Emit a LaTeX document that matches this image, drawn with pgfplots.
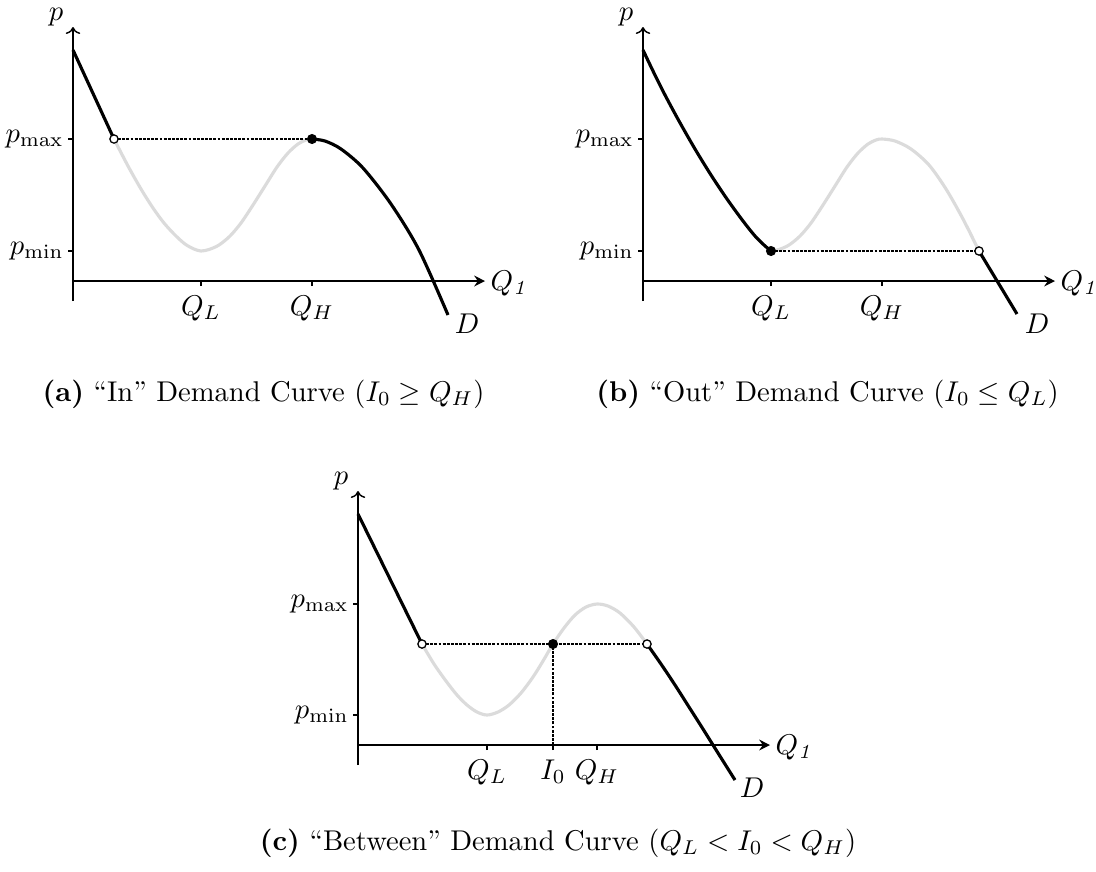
\documentclass[border=0pt]{standalone}
\usepackage{pgfplots}
\pgfplotsset{compat=1.18}
\usetikzlibrary{arrows.meta}

% one drawing unit
\def\pxu{0.35pt}

\pgfplotsset{
  demand axis/.style={
    x=\pxu, y=\pxu,
    axis lines=middle,
    xmin=0, xmax=412, ymin=-20, ymax=254,
    enlargelimits=false,
    clip=false,
    anchor=origin,
    axis line style={line width=0.5pt, black},
    x axis line style={-{Stealth[length=3.8pt,width=3.8pt,inset=1.3pt]}},
    y axis line style={-{To[scale=0.9]}},
    tick align=outside,
    major tick length=1.75pt,
    minor tick num=0,
    tick style={line width=0.4pt, black},
    yticklabel style={xshift=2pt},
  },
  black curve/.style={black, line width=1.1pt, smooth, tension=0.5, no markers},
  grey curve/.style={black!14, line width=1.1pt, smooth, tension=0.5, no markers},
  guide/.style={black, line width=0.4pt, dash pattern=on 1pt off 0.45pt, no markers},
  open dot/.style={only marks, mark=*, mark size=1.45pt,
    mark options={fill=white, draw=black, line width=0.45pt}},
  solid dot/.style={only marks, mark=*, mark size=1.55pt,
    mark options={fill=black, draw=black}},
}

\newcommand\axisnames{%
  \node at (axis cs:-17,264) {$p$};
  \node[anchor=west, inner sep=0pt] at (axis cs:417,-2) {$Q_{\mathit{1}}$};
  \node at (axis cs:394,-43) {$D$};
}

\begin{document}
\begin{tikzpicture}
\path[use as bounding box] (0,0) rectangle ({1096*\pxu},{-871*\pxu});

% (a) "In" demand curve
\begin{axis}[demand axis, at={({73*\pxu},{-281*\pxu})},
  xtick={128,239}, xticklabels={$Q_L$,$Q_H$},
  ytick={30,142}, yticklabels={$p_{\min}$,$p_{\max}$}]
\addplot[grey curve] coordinates {(41,142) (55,115) (68,92) (80,73) (91,58) (102,46)
  (112,37) (121,32) (128,30) (136,31.5) (146,36) (157,45) (168,58) (180,76) (192,95)
  (204,114) (215,128) (225,137) (233,141) (239,142)};
\addplot[black curve] coordinates {(0,231) (41,142)};
\addplot[black curve] coordinates {(239,142) (252,140) (268,132) (290,113) (318,77)
  (346,31) (375,-34)};
\addplot[guide] coordinates {(41,142) (239,142)};
\addplot[open dot] coordinates {(41,142)};
\addplot[solid dot] coordinates {(239,142)};
\axisnames
\end{axis}

% (b) "Out" demand curve
\begin{axis}[demand axis, at={({643*\pxu},{-281*\pxu})},
  xtick={128,239}, xticklabels={$Q_L$,$Q_H$},
  ytick={30,142}, yticklabels={$p_{\min}$,$p_{\max}$}]
\addplot[grey curve] coordinates {(128,30) (136,31.5) (146,36) (157,45) (168,58)
  (180,76) (192,95) (204,114) (215,128) (225,137) (233,141) (239,142) (252,140)
  (268,132) (286,116) (303,92) (320,62) (336,30)};
\addplot[black curve] coordinates {(0,231) (10,210) (22,186) (36,160) (52,132) (68,106)
  (84,82) (100,60) (112,45) (121,36) (128,30)};
\addplot[black curve] coordinates {(336,30) (374,-33)};
\addplot[guide] coordinates {(128,30) (336,30)};
\addplot[solid dot] coordinates {(128,30)};
\addplot[open dot] coordinates {(336,30)};
\axisnames
\end{axis}

% (c) "Between" demand curve
\begin{axis}[demand axis, at={({358*\pxu},{-745*\pxu})},
  xtick={129,195,239}, xticklabels={$Q_L$,$I_0$,$Q_H$},
  ytick={30,141}, yticklabels={$p_{\min}$,$p_{\max}$}]
\addplot[grey curve] coordinates {(64,101) (76,81) (88,64) (99,50) (109,40) (119,33)
  (129,30) (140,33) (151,40) (163,52) (175,68) (185,84) (195,101) (206,117) (217,130)
  (228,138) (239,141) (250,139) (262,132) (276,118) (289,101)};
\addplot[black curve] coordinates {(0,231) (64,101)};
\addplot[black curve] coordinates {(289,101) (303,81) (317,60) (331,38) (345,16)
  (360,-8) (377,-35)};
\addplot[guide] coordinates {(64,101) (289,101)};
\addplot[guide] coordinates {(195,0) (195,101)};
\addplot[open dot] coordinates {(64,101) (289,101)};
\addplot[solid dot] coordinates {(195,101)};
\axisnames
\end{axis}

\node[anchor=base] at ({263.5*\pxu},{-401*\pxu})
  {\textbf{(a)} ``In'' Demand Curve ($I_0 \geq Q_H$)};
\node[anchor=base] at ({827.5*\pxu},{-401*\pxu})
  {\textbf{(b)} ``Out'' Demand Curve ($I_0 \leq Q_L$)};
\node[anchor=base] at ({558*\pxu},{-850*\pxu})
  {\textbf{(c)} ``Between'' Demand Curve ($Q_L < I_0 < Q_H$)};
\end{tikzpicture}
\end{document}
